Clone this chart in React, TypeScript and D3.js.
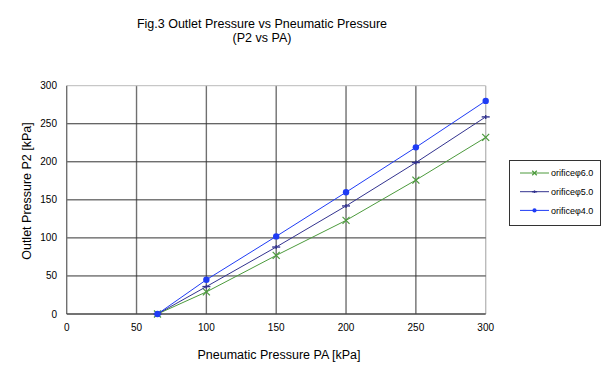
import * as d3 from "d3";

// pneumatic pressure PA [kPa]
const pa = [65, 100, 150, 200, 250, 300];
// outlet pressure P2 [kPa] per orifice
const orifice60 = [0, 29, 77, 123, 176, 232];
const orifice50 = [0, 36, 88, 142, 199, 259];
const orifice40 = [0, 45, 102, 160, 219, 280];

const seriesNames = ["orificeφ6.0", "orificeφ5.0", "orificeφ4.0"];
const seriesColors = ["#4c9a3c", "#33338f", "#1f3cf5"];
const seriesValues = [orifice60, orifice50, orifice40];
const xTicks = [0, 50, 100, 150, 200, 250, 300];
const yTicks = [0, 50, 100, 150, 200, 250, 300];

const W = 610;
const H = 387;
const FONT = "'Liberation Sans', Arial, Helvetica, sans-serif";

const Marker = ({ kind, x, y, color, k = 1 }: { kind: number; x: number; y: number; color: string; k?: number }) => {
  if (kind === 0) {
    const s = 3.5 * k;
    return (
      <g stroke={color} strokeWidth={1.2}>
        <line x1={x - s} y1={y - s} x2={x + s} y2={y + s} />
        <line x1={x - s} y1={y + s} x2={x + s} y2={y - s} />
      </g>
    );
  }
  if (kind === 1) {
    return (
      <g stroke={color} strokeWidth={1.4}>
        <line x1={x - 4 * k} y1={y} x2={x + 4 * k} y2={y} />
        <line x1={x} y1={y - 2 * k} x2={x} y2={y + 2 * k} />
      </g>
    );
  }
  return <circle cx={x} cy={y} r={3.2 * k} fill={color} />;
};

export default function App() {
  const x = d3.scaleLinear().domain([0, 300]).range([66.7, 485.7]);
  const y = d3.scaleLinear().domain([0, 300]).range([314, 85.7]);

  const line = d3
    .line<number>()
    .x((_, i) => x(pa[i]))
    .y((d) => y(d));

  return (
    <svg width={W} height={H} style={{ position: "absolute", left: 0, top: 0 }} fontFamily={FONT}>
      <rect width={W} height={H} fill="#fff" />

      <text x={262} y={28} textAnchor="middle" fontSize={12.5}>
        Fig.3 Outlet Pressure vs Pneumatic Pressure
      </text>
      <text x={262} y={42} textAnchor="middle" fontSize={12.5}>
        (P2 vs PA)
      </text>

      {/* vertical grid */}
      {xTicks.slice(1).map((t) => (
        <line
          key={"vx" + t}
          x1={x(t)}
          x2={x(t)}
          y1={y(300)}
          y2={y(0)}
          stroke={t === 300 ? "#bbb" : "#707070"}
          strokeWidth={1.4}
        />
      ))}
      {/* horizontal grid */}
      {yTicks.slice(1).map((t) => (
        <line
          key={"hy" + t}
          x1={x(0)}
          x2={x(300)}
          y1={y(t)}
          y2={y(t)}
          stroke={t === 300 ? "#bbb" : "#333"}
          strokeWidth={1}
        />
      ))}
      {/* axes */}
      <line x1={x(0)} x2={x(0)} y1={y(300)} y2={y(0)} stroke="#707070" strokeWidth={1.4} />
      <line x1={x(0)} x2={x(300)} y1={y(0)} y2={y(0)} stroke="#444" strokeWidth={1.3} />

      {yTicks.map((t) => (
        <text key={"yl" + t} x={57} y={y(t) + 3.5} textAnchor="end" fontSize={10}>
          {t}
        </text>
      ))}
      {xTicks.map((t) => (
        <text key={"xl" + t} x={x(t)} y={331} textAnchor="middle" fontSize={10}>
          {t}
        </text>
      ))}

      <text x={279} y={359} textAnchor="middle" fontSize={12.5}>
        Pneumatic Pressure PA [kPa]
      </text>
      <text
        transform={`translate(31,191) rotate(-90)`}
        textAnchor="middle"
        fontSize={12.5}
      >
        Outlet Pressure P2 [kPa]
      </text>

      {seriesValues.map((vals, si) => (
        <g key={"s" + si}>
          <path d={line(vals) || ""} fill="none" stroke={seriesColors[si]} strokeWidth={1} />
          {vals.map((v, i) => (
            <Marker key={i} kind={si} x={x(pa[i])} y={y(v)} color={seriesColors[si]} />
          ))}
        </g>
      ))}

      {/* legend */}
      <rect x={509.5} y={160.5} width={91} height={65} fill="#fff" stroke="#333" strokeWidth={1} />
      {seriesNames.map((n, i) => {
        const ly = 173 + i * 18.7;
        return (
          <g key={"lg" + i}>
            <line x1={520} x2={549} y1={ly} y2={ly} stroke={seriesColors[i]} strokeWidth={1} />
            <Marker kind={i} x={534.5} y={ly} color={seriesColors[i]} k={0.65} />
            <text x={551} y={ly + 3.2} fontSize={9}>
              {n}
            </text>
          </g>
        );
      })}
    </svg>
  );
}
